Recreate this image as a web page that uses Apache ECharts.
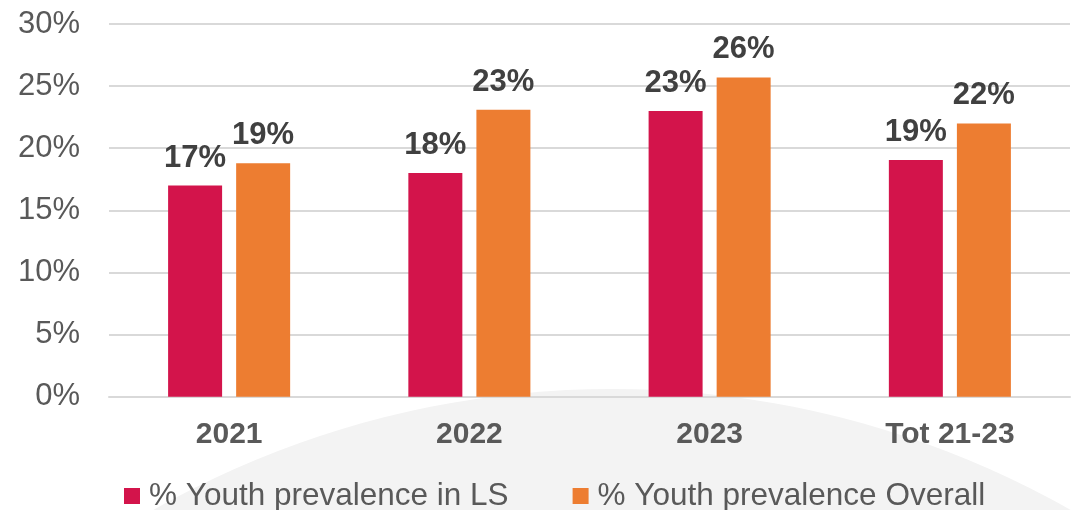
<!DOCTYPE html>
<html>
<head>
<meta charset="utf-8">
<script src="https://cdn.jsdelivr.net/npm/echarts@6/dist/echarts.min.js"></script>
<style>
  html, body { margin: 0; padding: 0; background: #ffffff; }
  #chart { width: 1071px; height: 510px; }
</style>
</head>
<body>
<div id="chart"></div>
<script>
// Youth prevalence by year, in percent
const categories = ['2021', '2022', '2023', 'Tot 21-23'];
const seriesNames = ['% Youth prevalence in LS', '% Youth prevalence Overall'];
const prevalenceLS = [17.0, 18.0, 23.0, 19.05];
const prevalenceOverall = [18.8, 23.1, 25.7, 22.0];
const yTicks = { min: 0, max: 30, step: 5 };

const FONT = "'Liberation Sans', Arial, sans-serif";
const RED = '#D3144B';
const ORANGE = '#ED7D31';

const chart = echarts.init(document.getElementById('chart'), null, { renderer: 'canvas' });

const labelStyle = {
  show: true,
  position: 'top',
  distance: 12,
  fontFamily: FONT,
  fontSize: 31,
  fontWeight: 'bold',
  color: '#404040',
  formatter: p => Math.round(p.value) + '%'
};

chart.setOption({
  animation: false,
  backgroundColor: '#ffffff',
  textStyle: { fontFamily: FONT },
  graphic: [{
    // soft grey backdrop arc behind the plot
    type: 'circle',
    z: -100,
    silent: true,
    shape: { cx: 612, cy: 1319, r: 930 },
    style: { fill: '#f3f3f3' }
  }],
  grid: { left: 109, right: 1, top: 24, bottom: 113.3, containLabel: false },
  legend: {
    left: 119,
    top: 475,
    itemWidth: 16,
    itemHeight: 16,
    itemGap: 64,
    icon: 'rect',
    data: seriesNames,
    textStyle: {
      fontFamily: FONT,
      fontSize: 31.5,
      color: '#595959',
      padding: [0, 0, 0, 4]
    }
  },
  xAxis: {
    type: 'category',
    data: categories,
    axisTick: { show: false },
    axisLine: { show: true, lineStyle: { color: '#d9d9d9', width: 2 } },
    axisLabel: {
      margin: 23,
      fontFamily: FONT,
      fontSize: 30,
      fontWeight: 'bold',
      color: '#595959'
    }
  },
  yAxis: {
    type: 'value',
    min: yTicks.min,
    max: yTicks.max,
    interval: yTicks.step,
    axisLine: { show: false },
    axisTick: { show: false },
    splitLine: { lineStyle: { color: '#d9d9d9', width: 2 } },
    axisLabel: {
      margin: 29,
      fontFamily: FONT,
      fontSize: 31,
      color: '#595959',
      formatter: '{value}%'
    }
  },
  series: [
    {
      name: seriesNames[0],
      type: 'bar',
      data: prevalenceLS,
      barWidth: 54,
      barGap: '26%',
      itemStyle: { color: RED },
      label: labelStyle
    },
    {
      name: seriesNames[1],
      type: 'bar',
      data: prevalenceOverall,
      barWidth: 54,
      barGap: '26%',
      itemStyle: { color: ORANGE },
      label: labelStyle
    }
  ]
});
</script>
</body>
</html>
